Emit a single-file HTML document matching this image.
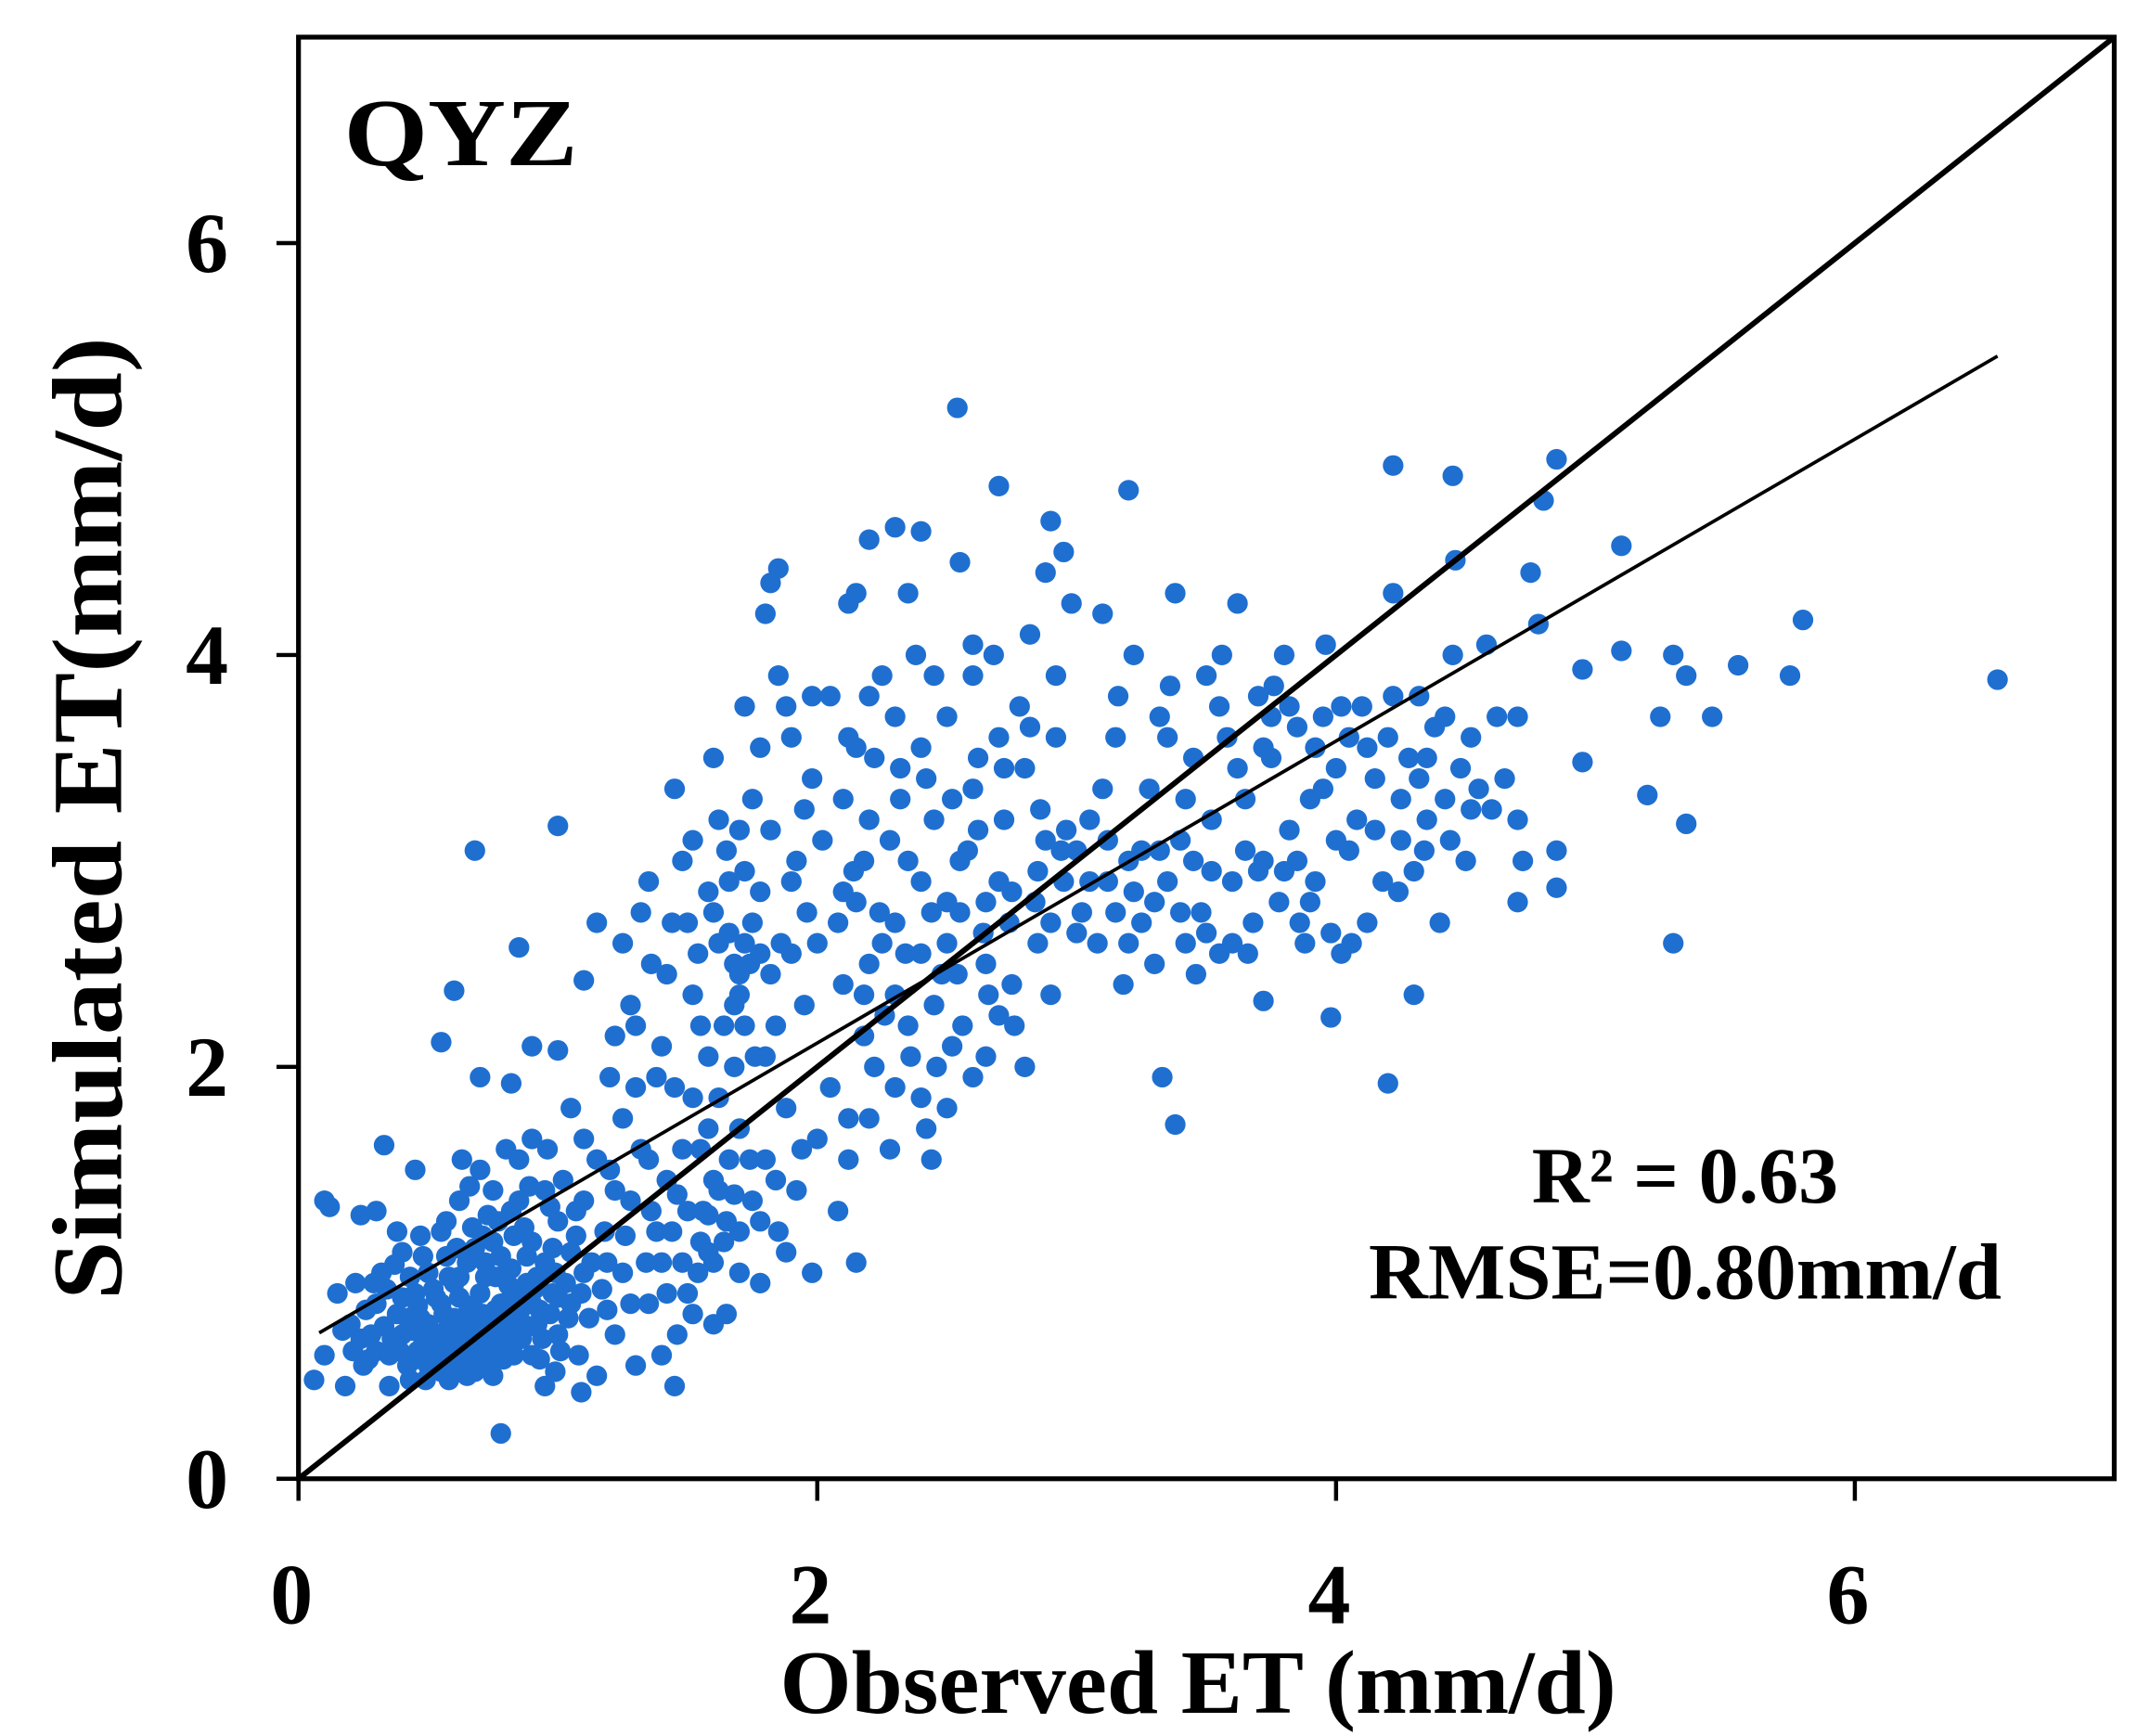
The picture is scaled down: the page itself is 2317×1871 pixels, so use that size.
<!DOCTYPE html>
<html><head><meta charset="utf-8"><style>
html,body{margin:0;padding:0;background:#fff}
svg{display:block}
text{font-family:"Liberation Serif",serif;font-weight:bold;fill:#000}
</style></head><body>
<svg id="chart" width="2317" height="1871" viewBox="0 0 1563 1262" preserveAspectRatio="none" xmlns="http://www.w3.org/2000/svg">
<rect width="1563" height="1262" fill="#fff"/>
<g id="ticks"></g>
<g id="points"></g>
<g id="lines"></g>
<rect x="217" y="27" width="1320" height="1048" fill="none" stroke="#000" stroke-width="3.5"/>
<text x="250" y="120" font-size="70" textLength="170" lengthAdjust="spacingAndGlyphs">QYZ</text>
<text x="1225" y="874" font-size="58" text-anchor="middle">R² = 0.63</text>
<text x="1225" y="944" font-size="58" text-anchor="middle" textLength="460" lengthAdjust="spacingAndGlyphs">RMSE=0.80mm/d</text>
<text x="871" y="1245" font-size="66" text-anchor="middle" textLength="608" lengthAdjust="spacingAndGlyphs">Observed ET (mm/d)</text>
<text transform="translate(88,595) rotate(-90)" font-size="72" text-anchor="middle" textLength="700" lengthAdjust="spacingAndGlyphs">Simulated ET(mm/d)</text>
</svg>
<script>
const xTicks=[0,2,4,6];
const yTicks=[0,2,4,6];
const fitSlope=0.733;
const fitIntercept=0.65;
const fitRange=[0.08,6.55];
const scatterData=[
[2.54,5.2],[6.55,3.88],[5.8,4.17],[5.75,3.9],[5.55,3.95],[5.3,2.6],[5.35,3.18],[5.2,3.32],[5.25,3.7],[5.3,4.0],[5.35,3.9],[5.45,3.7],[5.1,4.02],[5.1,4.53],[4.95,3.48],[4.95,3.93],[4.85,4.95],[4.8,4.75],[4.85,3.05],[4.85,2.87],[4.7,2.8],[4.7,3.7],[4.2,1.92],[4.3,2.35],[3.38,1.72],[3.33,1.95],[0.78,0.22],[0.06,0.48],[0.1,1.35],[0.68,3.05],[1.0,3.17],[0.55,2.12],[0.6,2.37],[3.72,2.32],[3.98,2.24],[2.7,4.82],[3.2,4.8],[2.9,4.65],[2.3,4.62],[2.2,4.56],[2.4,4.6],[1.85,4.42],[4.22,4.92],[4.45,4.87],[4.46,4.46],
[0.1,0.6],[0.15,0.9],[0.2,0.75],[0.22,0.95],[0.25,0.55],[0.28,0.7],[0.3,0.85],[0.3,1.3],[0.32,1.0],[0.35,0.6],[0.35,0.45],[0.38,0.8],[0.4,0.7],[0.4,1.1],[0.42,0.55],[0.45,0.9],[0.45,1.5],[0.48,0.65],[0.5,0.75],[0.5,1.0],[0.52,0.58],[0.55,0.85],[0.55,1.2],[0.58,0.7],[0.6,0.95],[0.6,0.55],[0.62,1.35],[0.65,0.8],[0.65,1.05],[0.68,0.62],[0.7,0.9],[0.7,1.5],[0.72,0.75],[0.75,1.15],[0.75,0.5],[0.78,0.85],[0.8,1.0],[0.8,0.65],[0.82,1.3],[0.85,0.8],[0.85,1.55],[0.88,0.95],[0.9,0.6],[0.9,1.15],[0.92,0.75],[0.95,1.05],[0.95,0.45],[0.98,0.9],[1.0,1.25],[1.0,0.7],[1.02,1.45],[1.05,0.85],[1.05,1.1],[1.08,0.6],[1.1,1.0],[1.1,1.35],[1.12,0.78],[1.15,1.55],[1.15,0.5],[1.18,1.2],[0.12,1.32],[0.18,0.45],[0.24,1.28],[0.33,1.62],[0.38,1.2],[0.43,0.98],[0.47,0.78],[0.53,0.68],[0.57,1.08],[0.63,0.72],[0.66,1.42],[0.73,1.28],[0.76,0.98],[0.79,0.58],[0.83,1.18],[0.86,0.68],[0.89,1.42],[0.93,0.82],[0.96,1.6],[0.99,0.52],[1.03,0.95],[1.07,1.3],[1.09,0.42],[1.13,1.05],[1.17,0.92],[0.58,0.48],[0.68,0.52],[0.46,0.62],[0.52,0.92],[0.62,0.88],[0.72,0.98],[0.82,0.88],[0.92,0.98],[0.7,0.68],[0.8,0.78],[0.6,0.78],[0.5,0.55],[0.4,0.88],[0.44,0.72],[0.56,0.62],[0.64,0.58],[0.74,0.62],[0.84,0.72],[0.94,0.68],[1.04,0.78],[0.78,1.08],[0.88,1.08],[0.98,1.12],[0.68,1.12],[0.58,0.98],[0.48,1.08],[0.36,0.68],[0.26,0.82],[0.7,1.95],[0.82,1.92],[0.85,2.58],[0.9,2.1],[1.0,2.08],[1.05,1.8],[1.1,2.42],[1.15,2.7],[1.2,1.95],
[0.54,0.66],[0.64,0.66],[0.74,0.7],[0.66,0.74],[0.56,0.8],[0.46,0.84],[0.76,0.82],[0.86,0.9],[0.6,0.62],[0.7,0.6],[0.5,0.68],[0.42,0.78],[0.62,0.98],[0.72,1.05],[0.82,1.02],[0.9,0.85],[1.0,0.88],[0.3,0.62],[0.34,0.92],[0.24,0.68],
[0.52,0.62],[0.57,0.72],[0.61,0.68],[0.67,0.84],[0.71,0.8],[0.77,0.76],[0.81,0.94],[0.87,0.84],[0.91,0.92],[0.97,0.8],[0.55,0.52],[0.65,0.5],[0.73,0.55],[0.83,0.6],[0.93,0.58],[1.01,0.62],[0.45,0.58],[0.39,0.62],[0.33,0.74],[0.29,0.95],[0.37,1.04],[0.47,1.18],[0.57,1.25],[0.67,1.22],[0.77,1.25],[0.87,1.22],[0.97,1.32],[1.07,1.18],[0.63,1.55],[0.75,1.4],[0.85,1.35],[0.95,1.4],[0.8,1.6],[0.9,1.65],[1.1,1.65],[1.2,1.5],[0.53,0.88],[0.61,1.12],[0.71,1.18],[0.79,0.68],[0.89,0.74],[0.99,1.0],[1.09,0.9],[1.19,0.82],[1.19,1.05],[0.27,0.58],[0.21,0.62],[0.17,0.72],[0.43,0.48],[0.49,0.48],[0.59,0.58],[0.69,0.7],
[1.22,0.7],[1.25,1.0],[1.28,1.35],[1.3,0.55],[1.32,1.6],[1.35,0.85],[1.38,1.2],[1.4,0.6],[1.42,1.45],[1.45,0.45],[1.45,1.9],[1.48,1.05],[1.5,1.3],[1.52,0.8],[1.55,1.6],[1.55,2.2],[1.58,1.1],[1.6,0.75],[1.6,1.45],[1.62,1.85],[1.65,1.25],[1.68,2.5],[1.7,1.0],[1.7,1.7],[1.72,2.2],[1.75,1.35],[1.75,2.7],[1.78,0.95],[1.8,1.55],[1.8,2.05],[1.82,2.45],[1.85,1.2],[1.88,1.8],[1.9,2.9],[1.92,1.4],[1.95,2.3],[1.98,1.0],[2.0,1.65],[2.0,2.6],[2.02,3.1],[2.05,1.9],[2.08,1.3],[2.1,2.4],[2.12,1.75],[2.15,2.8],[2.15,1.05],[2.18,2.15],[1.25,2.6],[1.3,2.2],[1.35,2.9],[1.38,1.95],[1.42,2.45],[1.48,3.0],[1.5,2.7],[1.52,2.35],[1.58,2.85],[1.62,2.6],[1.65,3.05],[1.68,2.3],[1.72,2.95],[1.75,3.3],[1.78,2.55],[1.82,3.15],[1.45,3.35],[1.6,3.5],[1.72,3.75],[1.8,4.2],[1.82,4.35],[1.85,3.9],[1.9,3.6],[1.95,3.25],[1.25,1.75],[1.35,1.55],[1.4,1.05],[1.5,0.9],[1.55,1.15],[1.65,0.8],[1.7,1.2],[1.6,1.05],[1.48,1.6],[1.52,1.85],[1.4,2.1],[1.3,1.9],[1.22,1.4],[1.28,0.85],
[1.56,1.3],[1.62,1.4],[1.66,1.55],[1.58,1.7],[1.68,2.0],[1.72,2.6],[1.66,2.65],[1.7,2.45],[1.74,2.5],[1.44,1.2],[1.46,1.38],[1.36,1.3],
[1.26,1.18],[1.34,1.05],[1.42,0.9],[1.46,0.7],[1.54,1.0],[1.58,1.28],[1.64,1.15],[1.68,1.38],[1.74,1.55],[1.78,1.25],[1.84,1.45],[1.88,1.1],[1.94,1.6],[1.58,2.05],[1.64,2.2],[1.7,2.35],[1.76,2.05],[1.84,2.2],[1.9,2.55],[1.96,2.75],[1.54,2.55],[1.44,2.7],[1.36,2.5],[1.28,2.3],[1.22,2.15],[1.32,2.75],[1.6,2.75],[1.66,2.9],[1.78,2.85],[1.86,2.6],[1.92,3.0],[1.98,3.4],[1.7,3.15],[1.62,3.2],[1.52,3.1],[1.88,3.75],[1.98,3.8],[1.78,3.55],
[2.05,3.8],[2.1,3.3],[2.12,4.25],[2.15,3.55],[2.18,3.0],[2.2,2.5],[2.22,2.0],[2.25,3.9],[2.28,1.6],[2.3,2.7],[2.32,3.45],[2.35,2.2],[2.38,4.0],[2.4,2.9],[2.42,1.7],[2.45,3.2],[2.48,2.45],[2.5,3.7],[2.52,2.1],[2.55,2.75],[2.55,4.45],[2.58,3.05],[2.6,1.95],[2.62,3.5],[2.65,2.5],[2.68,4.0],[2.7,2.25],[2.72,3.2],[2.75,2.85],[2.78,3.75],[2.8,2.0],[2.82,4.1],[2.85,2.6],[2.88,3.1],[2.9,2.35],[2.92,3.6],[2.95,2.9],[2.98,4.25],[3.0,2.65],[2.1,2.85],[2.2,3.2],[2.3,2.35],[2.4,3.55],[2.5,2.6],[2.6,3.35],[2.7,2.9],[2.8,3.45],[2.9,2.7],[2.25,2.6],[2.35,3.0],[2.45,2.3],[2.55,3.0],[2.65,2.8],[2.75,2.4],[2.85,2.95],[2.15,4.3],[2.35,4.3],[2.45,3.9],[2.6,4.05],[2.88,4.4],[2.95,4.5],[2.3,3.7],[2.2,3.8],[2.6,3.9],[2.7,3.6],[2.5,2.8],[2.4,2.55],[2.3,1.9],[2.5,1.8],[2.65,2.05],
[2.08,2.7],[2.14,2.95],[2.24,2.75],[2.28,3.1],[2.34,2.55],[2.44,2.75],[2.54,2.45],[2.64,2.65],[2.74,2.7],[2.84,2.8],[2.94,3.05],[2.18,2.35],[2.26,2.25],[2.36,2.05],[2.46,2.0],[2.56,2.2],[2.66,2.35],[2.76,2.2],[2.86,3.25],[2.96,3.15],[2.12,3.6],[2.22,3.5],[2.32,3.3],[2.42,3.4],[2.52,3.3],[2.62,3.15],[2.72,3.45],[2.82,3.65],[2.92,3.9],[2.44,1.55],[2.4,1.85],[2.2,1.75],[2.12,1.55],
[3.05,3.2],[3.08,2.6],[3.1,4.2],[3.12,2.9],[3.15,3.6],[3.18,2.4],[3.2,3.0],[3.22,4.0],[3.25,2.7],[3.28,3.35],[3.3,2.5],[3.32,3.7],[3.35,2.9],[3.38,4.3],[3.4,3.1],[3.42,2.6],[3.45,3.5],[3.48,2.75],[3.5,3.9],[3.52,3.2],[3.55,2.55],[3.58,3.6],[3.6,2.9],[3.62,4.25],[3.65,3.3],[3.68,2.7],[3.7,3.8],[3.72,3.0],[3.75,3.5],[3.78,2.8],[3.8,4.0],[3.82,3.15],[3.85,3.65],[3.88,2.6],[3.9,3.3],[3.92,2.9],[3.95,3.7],[3.98,2.65],[4.0,3.45],[4.02,2.55],[4.05,3.6],[4.08,3.2],[4.1,3.75],[4.12,2.7],[4.15,3.4],[4.18,2.9],[4.2,3.6],[4.22,4.3],[4.25,3.1],[4.28,3.5],[4.3,2.95],[4.32,3.8],[4.35,3.2],[4.38,3.65],[4.4,2.7],[4.42,3.3],[4.45,4.0],[4.48,3.45],[4.5,3.0],[4.52,3.6],[4.55,3.35],[4.58,4.05],[4.6,3.25],[4.65,3.4],[4.7,3.2],[4.72,3.0],[4.75,4.4],[4.78,4.15],[3.35,3.6],[3.45,3.0],[3.55,3.75],[3.65,3.05],[3.75,3.7],[3.85,3.0],[3.95,3.35],[4.05,3.05],[4.15,3.15],[4.25,3.3],[4.35,3.5],[3.25,3.05],[3.15,2.75],[3.05,2.9],[3.0,3.05],[3.1,3.35],[3.2,2.6],[3.3,2.8],[3.4,2.75],[3.5,2.65],[3.6,2.6],[3.7,2.95],[3.8,2.95],[3.9,2.8],[4.0,3.1],
[3.02,2.75],[3.12,3.1],[3.22,2.85],[3.32,3.05],[3.42,3.3],[3.52,2.95],[3.62,3.45],[3.72,3.55],[3.82,3.75],[3.92,3.55],[4.02,3.75],[4.12,3.55],[4.22,3.8],[4.32,3.4],[4.42,3.7],[4.52,3.25],[4.62,3.7],[4.24,2.85],[4.34,3.05],[4.44,3.1],[3.46,2.45],[3.66,2.55],[3.86,2.7],[4.06,2.6],[3.16,3.8],[3.36,3.85],[3.56,4.0],[3.76,3.85],[3.96,4.05]
];
const NS='http://www.w3.org/2000/svg';
const X0=217,X1=1537,Y0=1075,Y1=27,XMAX=7,YMAX=7;
function sx(v){return X0+(X1-X0)*v/XMAX;}
function sy(v){return Y0-(Y0-Y1)*v/YMAX;}
const pg=document.getElementById('points');
scatterData.forEach(function(d){
  const c=document.createElementNS(NS,'circle');
  
  
  c.setAttribute('cx',sx(d[0]));c.setAttribute('cy',sy(d[1]));
  c.setAttribute('r',7.5);c.setAttribute('fill','#1f6fd0');
  pg.appendChild(c);
});
const lg=document.getElementById('lines');
const l1=document.createElementNS(NS,'line');


l1.setAttribute('x1',sx(0));l1.setAttribute('y1',sy(0));l1.setAttribute('x2',sx(7));l1.setAttribute('y2',sy(7));
l1.setAttribute('stroke','#000');l1.setAttribute('stroke-width','4');
lg.appendChild(l1);
const l2=document.createElementNS(NS,'line');


l2.setAttribute('x1',sx(fitRange[0]));l2.setAttribute('y1',sy(fitIntercept+fitSlope*fitRange[0]));
l2.setAttribute('x2',sx(fitRange[1]));l2.setAttribute('y2',sy(fitIntercept+fitSlope*fitRange[1]));
l2.setAttribute('stroke','#000');l2.setAttribute('stroke-width','2.5');
lg.appendChild(l2);
const tg=document.getElementById('ticks');
xTicks.forEach(function(v){
  const t=document.createElementNS(NS,'line');
  
  
  t.setAttribute('x1',sx(v));t.setAttribute('x2',sx(v));t.setAttribute('y1',Y0);t.setAttribute('y2',Y0+16);
  t.setAttribute('stroke','#000');t.setAttribute('stroke-width','3');
  tg.appendChild(t);
  const s=document.createElementNS(NS,'text');
  
  
  s.setAttribute('x',sx(v)-5);s.setAttribute('y',1180);s.setAttribute('font-size','62');s.setAttribute('text-anchor','middle');
  s.textContent=v;tg.appendChild(s);
});
yTicks.forEach(function(v){
  const t=document.createElementNS(NS,'line');
  
  
  t.setAttribute('x1',X0-16);t.setAttribute('x2',X0);t.setAttribute('y1',sy(v));t.setAttribute('y2',sy(v));
  t.setAttribute('stroke','#000');t.setAttribute('stroke-width','3');
  tg.appendChild(t);
  const s=document.createElementNS(NS,'text');
  
  
  s.setAttribute('x',166);s.setAttribute('y',sy(v)+21);s.setAttribute('font-size','62');s.setAttribute('text-anchor','end');
  s.textContent=v;tg.appendChild(s);
});
</script>
</body></html>
